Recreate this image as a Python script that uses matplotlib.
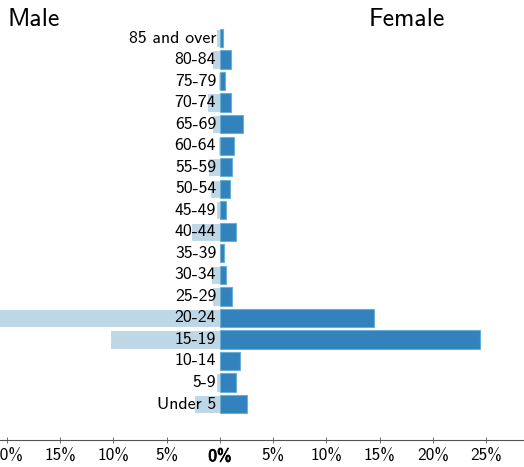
import matplotlib
matplotlib.use("Agg")
import numpy as np
import matplotlib.pyplot as plt
import matplotlib.patheffects as pe
from matplotlib.ticker import FuncFormatter

plt.rcParams['font.family'] = ['cmss10', 'DejaVu Sans']
plt.rcParams['axes.unicode_minus'] = False

ages = ['Under 5', '5-9', '10-14', '15-19', '20-24', '25-29', '30-34', '35-39',
        '40-44', '45-49', '50-54', '55-59', '60-64', '65-69', '70-74', '75-79',
        '80-84', '85 and over']
male = [2.45, 0.4, 0.1, 10.3, 22.0, 0.7, 0.85, 0.05, 2.7, 0.4,
        0.95, 1.1, 0.15, 0.7, 1.25, 0.15, 0.7, 0.4]
female = [2.5, 1.55, 1.9, 24.4, 14.5, 1.15, 0.6, 0.35, 1.55, 0.6,
          0.9, 1.15, 1.3, 2.2, 1.0, 0.47, 1.0, 0.3]
ticks = [-20, -15, -10, -5, 0, 5, 10, 15, 20, 25]

fig = plt.figure(figsize=(5.24, 4.67), dpi=100)
ax = fig.add_axes([0, 27 / 467, 1, 440 / 467])

y = np.arange(len(ages))
ax.barh(y, [-m for m in male], height=0.85, color='#bdd7e7',
        edgecolor='white', linewidth=0.8, zorder=2)
ax.barh(y, female, height=0.85, color='#3182bd',
        edgecolor='#6baed6', linewidth=0.8, zorder=2)

for yi, lab in zip(y, ages):
    ax.text(-0.35, yi, lab, ha='right', va='center', fontsize=12.8, zorder=3)

ax.set_xlim(-20.65, 28.55)
ax.set_ylim(-1.67, 17 + 38 / 21.53)
ax.set_yticks([])
ax.set_xticks(ticks)
ax.xaxis.set_major_formatter(FuncFormatter(lambda v, p: f'{abs(v):.0f}%'))
ax.tick_params(axis='x', direction='inout', length=5, width=0.6,
               color='#555555', labelsize=12.5, pad=4)
for lbl, t in zip(ax.get_xticklabels(), ticks):
    if t == 0:
        # cmss10 has no bold face, so thicken the strokes instead
        lbl.set_path_effects([pe.withStroke(linewidth=0.6, foreground='black')])

for s in ['top', 'right', 'left']:
    ax.spines[s].set_visible(False)
ax.spines['bottom'].set_color('#555555')
ax.spines['bottom'].set_linewidth(0.8)

fig.text(8 / 524, 1 - 20 / 467, 'Male', fontsize=18.5, ha='left', va='center')
fig.text(407 / 524, 1 - 20 / 467, 'Female', fontsize=18.5, ha='center', va='center')

fig.savefig('out.png', dpi=100)
